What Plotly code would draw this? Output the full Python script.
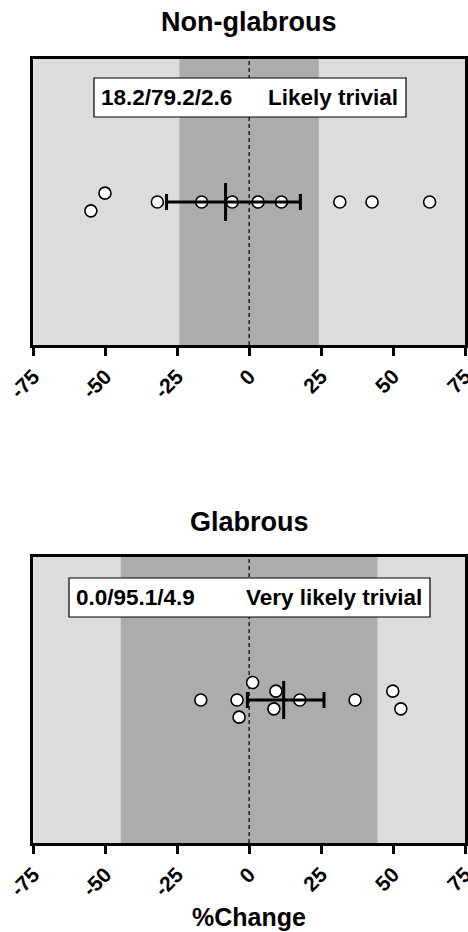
import plotly.graph_objects as go

W, H = 468, 932

# ---------------- data ----------------
tick_vals = [-75, -50, -25, 0, 25, 50, 75]
tick_text = ["-75", "-50", "-25", "0", "25", "50", "75"]

panel_titles = ["Non-glabrous", "Glabrous"]
panel_stats = ["18.2/79.2/2.6", "0.0/95.1/4.9"]
panel_verdicts = ["Likely trivial", "Very likely trivial"]

# trivial (smallest worthwhile change) band half-widths
trivial_band = [24.2, 44.6]

# individual % change values and vertical jitter (fraction of panel height)
nong_x = [-50.1, -55.0, -31.9, -16.5, -5.9, 3.1, 11.2, 31.5, 42.7, 62.7]
nong_y = [0.531, 0.469, 0.5, 0.5, 0.5, 0.5, 0.5, 0.5, 0.5, 0.5]
glab_x = [-16.8, -4.2, -3.5, 1.2, 9.3, 8.6, 17.6, 36.8, 49.9, 52.7]
glab_y = [0.5, 0.5, 0.44, 0.561, 0.531, 0.469, 0.5, 0.5, 0.531, 0.469]

# estimate and confidence limits
est = [-8.2, 12.0]
ci_low = [-28.7, -0.6]
ci_high = [17.8, 26.0]

points_x = [nong_x, glab_x]
points_y = [nong_y, glab_y]

# ---------------- layout helpers ----------------
def pxx(x):
    return x / W

def pxy(y):
    return 1 - y / H

FONT = "Liberation Sans, Arial, sans-serif"
LIGHT = "#dcdcdc"
DARK = "#acacac"

# panel frames (pixel positions)
frames = [(59, 345), (557, 843)]
x_dom = [pxx(33.3), pxx(465)]

fig = go.Figure()
shapes = []
annotations = []

boxes = [(94, 406, 78, 117), (69, 430, 578, 617)]

for i in range(2):
    xa = "x" if i == 0 else "x2"
    ya = "y" if i == 0 else "y2"
    xname = "xaxis" if i == 0 else "xaxis2"
    yname = "yaxis" if i == 0 else "yaxis2"
    top, bot = frames[i]

    fig.update_layout({
        xname: dict(
            domain=x_dom, range=[-75, 75], anchor=ya,
            tickvals=tick_vals, ticktext=tick_text, tickangle=-45,
            tickfont=dict(family=FONT, size=21, color="black", weight="bold"),
            ticks="outside", ticklen=8, tickwidth=2.5, tickcolor="black",
            showline=True, linecolor="black", linewidth=3, mirror=True,
            showgrid=False, zeroline=False, fixedrange=True,
            automargin=False, ticklabeloverflow="allow",
        ),
        yname: dict(
            domain=[pxy(bot), pxy(top)], range=[0, 1], anchor=xa,
            showticklabels=False, ticks="", showgrid=False, zeroline=False,
            showline=True, linecolor="black", linewidth=3, mirror=True,
            fixedrange=True, automargin=False,
        ),
    })

    # dark trivial band
    shapes.append(dict(type="rect", xref=xa, yref=f"{ya} domain",
                       x0=-trivial_band[i], x1=trivial_band[i], y0=0, y1=1,
                       fillcolor=DARK, line=dict(width=0), layer="below"))
    # dashed zero line
    shapes.append(dict(type="line", xref=xa, yref=f"{ya} domain",
                       x0=0, x1=0, y0=0, y1=1,
                       line=dict(color="black", width=1.2, dash="4px,3px"),
                       layer="below"))

    # points
    fig.add_trace(go.Scatter(
        x=points_x[i], y=points_y[i], xaxis=xa, yaxis=ya, mode="markers",
        marker=dict(symbol="circle", size=12, color="white",
                    line=dict(color="black", width=1.6)),
        showlegend=False, hoverinfo="x",
    ))
    # estimate + CI
    fig.add_trace(go.Scatter(
        x=[est[i]], y=[0.5], xaxis=xa, yaxis=ya, mode="markers",
        marker=dict(symbol="line-ns", size=27, color="black",
                    line=dict(color="black", width=3)),
        error_x=dict(type="data", symmetric=False,
                     array=[ci_high[i] - est[i]],
                     arrayminus=[est[i] - ci_low[i]],
                     color="black", thickness=3, width=8),
        showlegend=False, hoverinfo="x",
    ))

    # label box
    bx0, bx1, by0, by1 = boxes[i]
    shapes.append(dict(type="rect", xref="paper", yref="paper",
                       x0=pxx(bx0), x1=pxx(bx1), y0=pxy(by1), y1=pxy(by0),
                       fillcolor="white", line=dict(color="black", width=1.2),
                       layer="above"))
    ymid = pxy((by0 + by1) / 2)
    annotations.append(dict(text=f"<b>{panel_stats[i]}</b>", xref="paper", yref="paper",
                            x=pxx(bx0 + 5), y=ymid, xanchor="left", yanchor="middle",
                            showarrow=False, font=dict(family=FONT, size=22.5, color="black")))
    annotations.append(dict(text=f"<b>{panel_verdicts[i]}</b>", xref="paper", yref="paper",
                            x=pxx(bx1 - 6), y=ymid, xanchor="right", yanchor="middle",
                            showarrow=False, font=dict(family=FONT, size=22.5, color="black")))

    # panel title
    annotations.append(dict(text=f"<b>{panel_titles[i]}</b>", xref="paper", yref="paper",
                            x=pxx(249), y=pxy(22 if i == 0 else 522),
                            xanchor="center", yanchor="middle", showarrow=False,
                            font=dict(family=FONT, size=27, color="black")))

annotations.append(dict(text="<b>%Change</b>", xref="paper", yref="paper",
                        x=pxx(249), y=pxy(917), xanchor="center", yanchor="middle",
                        showarrow=False, font=dict(family=FONT, size=25, color="black")))

fig.update_layout(
    width=W, height=H, margin=dict(l=0, r=0, t=0, b=0, autoexpand=False),
    paper_bgcolor="white", plot_bgcolor=LIGHT,
    shapes=shapes, annotations=annotations, showlegend=False,
)

fig.write_html("out.html", config={"displayModeBar": False})
